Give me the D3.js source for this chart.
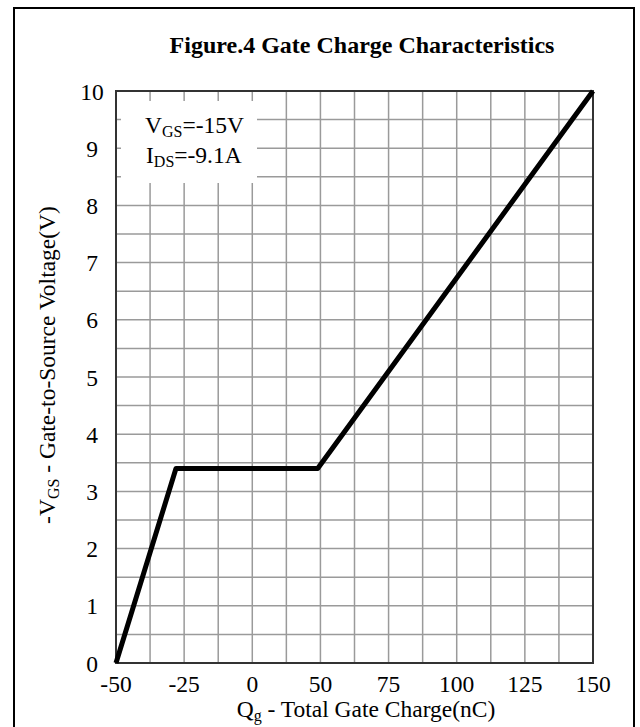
<!DOCTYPE html>
<html>
<head>
<meta charset="utf-8">
<script src="https://cdn.jsdelivr.net/npm/d3@7"></script>
<style>
  body { margin: 0; background: #fff; }
  text { font-family: "Liberation Serif", "Times New Roman", serif; fill: #000; }
</style>
</head>
<body>
<svg width="640" height="727"></svg>
<script>
// Data
var qgValues = [-50, -28, 48, 150];
var vgsValues = [0, 3.4, 3.4, 10];
var xTickLabels = [-50, -25, 0, 50, 75, 100, 125, 150];
var yTickLabels = [0, 1, 2, 3, 4, 5, 6, 7, 8, 9, 10];

var svg = d3.select("svg");

var plotLeft = 116, plotRight = 593, plotTop = 91, plotBottom = 663;
var fs = "23.5px", subFs = "16px";

// x axis labels are not evenly spaced in value, so use a polylinear scale
var step = (plotRight - plotLeft) / (xTickLabels.length - 1);
var x = d3.scaleLinear()
  .domain(xTickLabels)
  .range(xTickLabels.map(function (d, i) { return plotLeft + i * step; }));
var y = d3.scaleLinear().domain([0, 10]).range([plotBottom, plotTop]);

// outer frame
svg.append("rect")
  .attr("x", 14).attr("y", 8)
  .attr("width", 620).attr("height", 740)
  .attr("fill", "none")
  .attr("stroke", "#000")
  .attr("stroke-width", 2);

// title
svg.append("text")
  .attr("x", 362).attr("y", 53)
  .attr("text-anchor", "middle")
  .style("font-size", "24px")
  .style("font-weight", "bold")
  .text("Figure.4 Gate Charge Characteristics");

// grid: ticks plus midpoints
var xGrid = [];
xTickLabels.forEach(function (d, i) {
  xGrid.push(d);
  if (i < xTickLabels.length - 1) xGrid.push((d + xTickLabels[i + 1]) / 2);
});
var yGrid = d3.range(0, 10.01, 0.5);

var grid = svg.append("g").attr("stroke", "#9a9a9a").attr("stroke-width", 1.5);
grid.selectAll(".vg").data(xGrid).enter().append("line")
  .attr("x1", function (d) { return x(d); }).attr("x2", function (d) { return x(d); })
  .attr("y1", plotTop).attr("y2", plotBottom);
grid.selectAll(".hg").data(yGrid).enter().append("line")
  .attr("x1", plotLeft).attr("x2", plotRight)
  .attr("y1", function (d) { return y(d); }).attr("y2", function (d) { return y(d); });

// legend box covers the grid
svg.append("rect")
  .attr("x", 121).attr("y", 101)
  .attr("width", 136).attr("height", 82)
  .attr("fill", "#fff");

var leg1 = svg.append("text").attr("x", 145).attr("y", 133).style("font-size", fs);
leg1.append("tspan").text("V");
leg1.append("tspan").attr("dy", 4).style("font-size", subFs).text("GS");
leg1.append("tspan").attr("dy", -4).text("=-15V");

var leg2 = svg.append("text").attr("x", 146).attr("y", 163).style("font-size", fs);
leg2.append("tspan").text("I");
leg2.append("tspan").attr("dy", 4).style("font-size", subFs).text("DS");
leg2.append("tspan").attr("dy", -4).text("=-9.1A");

// plot border
svg.append("rect")
  .attr("x", plotLeft).attr("y", plotTop)
  .attr("width", plotRight - plotLeft).attr("height", plotBottom - plotTop)
  .attr("fill", "none")
  .attr("stroke", "#333")
  .attr("stroke-width", 2);

// curve
var line = d3.line()
  .x(function (d) { return x(d[0]); })
  .y(function (d) { return y(d[1]); });
svg.append("path")
  .datum(d3.zip(qgValues, vgsValues))
  .attr("d", line)
  .attr("fill", "none")
  .attr("stroke", "#000")
  .attr("stroke-width", 5)
  .attr("stroke-linejoin", "round");

// tick labels
svg.selectAll(".xl").data(xTickLabels).enter().append("text")
  .attr("x", function (d) { return x(d); })
  .attr("y", 692)
  .attr("text-anchor", "middle")
  .style("font-size", fs)
  .text(function (d) { return d; });

svg.selectAll(".yl").data(yTickLabels).enter().append("text")
  .attr("x", 92)
  .attr("y", function (d) { return y(d) + 8.5; })
  .attr("text-anchor", "middle")
  .style("font-size", fs)
  .text(function (d) { return d; });

// axis titles
var xt = svg.append("text")
  .attr("x", 366).attr("y", 717)
  .attr("text-anchor", "middle")
  .style("font-size", fs);
xt.append("tspan").text("Q");
xt.append("tspan").attr("dy", 4).style("font-size", subFs).text("g");
xt.append("tspan").attr("dy", -4).text(" - Total Gate Charge(nC)");

var yt = svg.append("text")
  .attr("transform", "translate(55,365) rotate(-90)")
  .attr("text-anchor", "middle")
  .style("font-size", fs);
yt.append("tspan").text("-V");
yt.append("tspan").attr("dy", 4).style("font-size", subFs).text("GS");
yt.append("tspan").attr("dy", -4).text(" - Gate-to-Source Voltage(V)");
</script>
</body>
</html>
